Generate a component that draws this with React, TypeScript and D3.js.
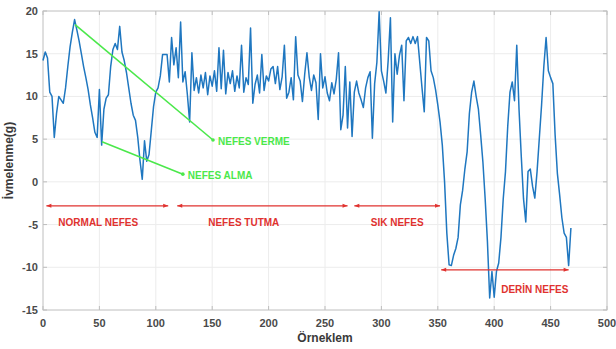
import * as d3 from "d3";

// signal, one value every 2 samples (x = 0, 2, 4, ...)
const STEP = 2;
const ivme = [
  14.2, 15.2, 14.5, 10.5, 10, 5.2, 8, 10, 9.6, 9.2,
  11, 13.5, 15.8, 17.5, 19, 17.8, 16.5, 15, 13.5, 12.2,
  10.8, 9, 7.5, 5.8, 5.2, 10.8, 4.3, 8.5, 9.8, 10.2,
  13.5, 15.5, 16.2, 15.5, 18.2, 15.2, 14.2, 12.8, 11, 9.2,
  7.8, 7.2, 5.2, 2.5, 0.3, 4.8, 2.4, 3.2, 6, 8.8,
  10.5, 11, 12.4, 14.9, 14.9, 14.9, 11.7, 16.9, 13.7, 15.7,
  12.2, 18.7, 11.7, 12.9, 10.2, 7, 15.1, 10.7, 12.2, 10.4,
  12.5, 11, 12.8, 10.2, 12.4, 11.2, 13, 10.6, 15.7, 10.9,
  15.4, 10.3, 12.8, 11.5, 13, 10.6, 12.4, 11, 16, 10.5,
  12.2, 11.4, 18, 9.2, 11.4, 12.5, 10.4, 14.9, 10.7, 12.4,
  11.8, 13.2, 13.5, 11.5, 13.5, 10.8, 12.3, 16, 9.8, 10.5,
  12.2, 9.6, 17, 12.5, 11.8, 9.4, 12.6, 15.1, 12.3, 10.7,
  12.5, 11.6, 7.3, 15, 11, 12.3, 10.4, 9.5, 11.6, 10.3,
  12, 15.1, 6.1, 7.8, 13.5, 6.3, 11.7, 5.3, 10.5, 11.8,
  10.4, 9.6, 8.7, 11, 12.2, 12.9, 5.1, 11.5, 14, 19.9,
  13, 11.8, 10.4, 14.2, 19.2, 7, 15, 12.6, 14.8, 16,
  9.5, 16.5, 16.9, 16.2, 17, 16.2, 17, 14, 11, 8.2,
  16.9, 16.5, 13, 12.2, 10.8, 9, 7, 4.3, 0, -6,
  -9.7, -9.8, -8.6, -7.8, -6.5, -2.7, -1, 1.5, 3.5, 8,
  10.5, 11.8, 10, 8.5, 5.5, 2.3, -2, -7, -13.6, -10.5,
  -13.5, -10.5, -9.5, -6.5, -2, 1.2, 6.5, 10.5, 11.7, 9.5,
  16, 8.5, 3, -2, -4.7, 1.2, 1.5, -0.5, -1.9, 1.2,
  5.1, 9, 13.5, 16.9, 13, 12.2, 11.5, 5.5, 1, -1.5,
  -4.2, -6, -6.5, -9.8, -5.4,
];

const xTicks = [0, 50, 100, 150, 200, 250, 300, 350, 400, 450, 500];
const yTicks = [-15, -10, -5, 0, 5, 10, 15, 20];

// green callouts in data units, label at the end
const greenLines = [
  { from: [28.4, 18.4], to: [150.7, 4.9], label: "NEFES VERME" },
  { from: [52.3, 4.7], to: [124, 0.9], label: "NEFES ALMA" },
];

// red ranges
const phases = [
  { x1: 3, x2: 111, y: -2.8, label: "NORMAL NEFES", lx: 49, ly: -4.7 },
  { x1: 119, x2: 270, y: -2.8, label: "NEFES TUTMA", lx: 178, ly: -4.7 },
  { x1: 276, x2: 352, y: -2.8, label: "SIK NEFES", lx: 314, ly: -4.7 },
  { x1: 353, x2: 466, y: -10.3, label: "DERİN NEFES", lx: 436, ly: -12.6 },
];

const W = 616;
const H = 349;
const m = { left: 43, right: 9, top: 11, bottom: 39 };

export default function App() {
  const x = d3.scaleLinear().domain([0, 500]).range([m.left, W - m.right]);
  const y = d3.scaleLinear().domain([-15, 20]).range([H - m.bottom, m.top]);

  const line = d3
    .line<number>()
    .x((_, i) => x(i * STEP))
    .y((d) => y(d));

  const font = "'Liberation Sans', Arial, sans-serif";
  const red = "#e0322f";
  const green = "#4be84b";

  const arrowHead = (px: number, py: number, dir: number) =>
    `M${px},${py} L${px - dir * 5},${py - 2} L${px - dir * 5},${py + 2} Z`;

  return (
    <svg
      width={W}
      height={H}
      style={{ position: "absolute", left: 0, top: 0, background: "#fff" }}
      fontFamily={font}
    >
      {/* grid */}
      {xTicks.map((t) => (
        <line key={"gx" + t} x1={x(t)} x2={x(t)} y1={y(-15)} y2={y(20)} stroke="#ececec" />
      ))}
      {yTicks.map((t) => (
        <line key={"gy" + t} y1={y(t)} y2={y(t)} x1={x(0)} x2={x(500)} stroke="#ececec" />
      ))}

      {/* box */}
      <rect
        x={x(0)}
        y={y(20)}
        width={x(500) - x(0)}
        height={y(-15) - y(20)}
        fill="none"
        stroke="#c8c8c8"
      />
      {xTicks.map((t) => (
        <g key={"tx" + t} stroke="#bdbdbd">
          <line x1={x(t)} x2={x(t)} y1={y(-15)} y2={y(-15) - 4} />
          <line x1={x(t)} x2={x(t)} y1={y(20)} y2={y(20) + 4} />
        </g>
      ))}
      {yTicks.map((t) => (
        <g key={"ty" + t} stroke="#bdbdbd">
          <line y1={y(t)} y2={y(t)} x1={x(0)} x2={x(0) + 4} />
          <line y1={y(t)} y2={y(t)} x1={x(500)} x2={x(500) - 4} />
        </g>
      ))}

      {/* tick labels */}
      {xTicks.map((t) => (
        <text
          key={"lx" + t}
          x={x(t)}
          y={y(-15) + 17}
          textAnchor="middle"
          fontSize={11}
          fontWeight="bold"
          fill="#4a4a4a"
        >
          {t}
        </text>
      ))}
      {yTicks.map((t) => (
        <text
          key={"ly" + t}
          x={x(0) - 5}
          y={y(t) + 4}
          textAnchor="end"
          fontSize={11}
          fontWeight="bold"
          fill="#4a4a4a"
        >
          {t}
        </text>
      ))}

      <text
        x={(x(0) + x(500)) / 2}
        y={H - 7}
        textAnchor="middle"
        fontSize={12}
        fontWeight="bold"
        fill="#3a3a3a"
      >
        Örneklem
      </text>
      <text
        transform={`translate(13,${(y(20) + y(-15)) / 2}) rotate(-90)`}
        textAnchor="middle"
        fontSize={12}
        fontWeight="bold"
        fill="#3a3a3a"
      >
        İvmelenme(g)
      </text>

      {/* signal */}
      <path d={line(ivme) ?? ""} fill="none" stroke="#1f77c0" strokeWidth={1.5} strokeLinejoin="round" />

      {/* green callouts */}
      {greenLines.map((g) => (
        <g key={g.label}>
          <line
            x1={x(g.from[0])}
            y1={y(g.from[1])}
            x2={x(g.to[0])}
            y2={y(g.to[1])}
            stroke={green}
            strokeWidth={1.6}
          />
          <circle cx={x(g.to[0])} cy={y(g.to[1])} r={1.8} fill={green} />
          <text
            x={x(g.to[0]) + 5}
            y={y(g.to[1]) + 5}
            fontSize={10}
            fontWeight="bold"
            fill={green}
          >
            {g.label}
          </text>
        </g>
      ))}

      {/* red phases */}
      {phases.map((p) => (
        <g key={p.label}>
          <line x1={x(p.x1)} x2={x(p.x2)} y1={y(p.y)} y2={y(p.y)} stroke={red} strokeWidth={1.3} />
          <path d={arrowHead(x(p.x1), y(p.y), -1)} fill={red} />
          <path d={arrowHead(x(p.x2), y(p.y), 1)} fill={red} />
          <text
            x={x(p.lx)}
            y={y(p.ly) + 4}
            textAnchor="middle"
            fontSize={10}
            fontWeight="bold"
            fill={red}
          >
            {p.label}
          </text>
        </g>
      ))}
    </svg>
  );
}
